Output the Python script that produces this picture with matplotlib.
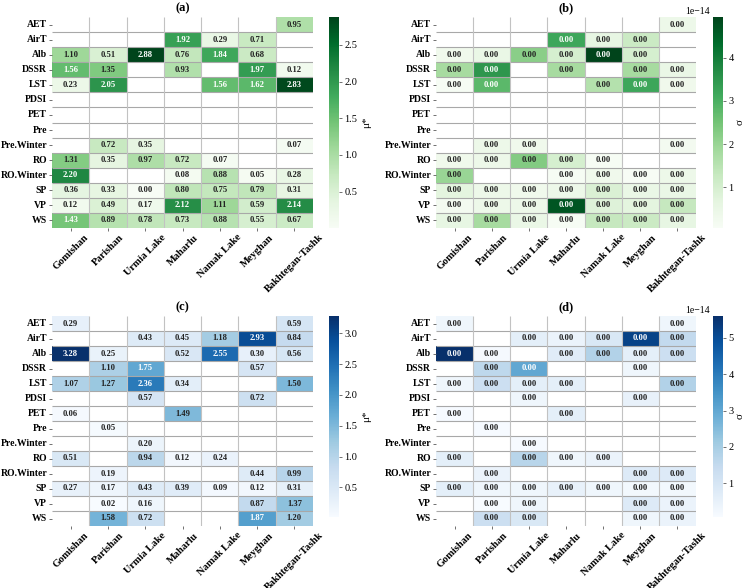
import numpy as np
import matplotlib
matplotlib.use("Agg")
import matplotlib.pyplot as plt
import seaborn as sns

plt.rcParams['font.family'] = ['Liberation Serif', 'DejaVu Serif']

sites = ["Gomishan", "Parishan", "Urmia Lake", "Maharlu", "Namak Lake", "Meyghan", "Bakhtegan-Tashk"]
variables = ["AET", "AirT", "Alb", "DSSR", "LST", "PDSI", "PET", "Pre", "Pre.Winter",
             "RO", "RO.Winter", "SP", "VP", "WS"]
N = np.nan

# (a) mu* - first set
mu_a = np.array([
    [N, N, N, N, N, N, 0.95],
    [N, N, N, 1.92, 0.29, 0.71, N],
    [1.10, 0.51, 2.88, 0.76, 1.84, 0.68, N],
    [1.56, 1.35, N, 0.93, N, 1.97, 0.12],
    [0.23, 2.05, N, N, 1.56, 1.62, 2.83],
    [N, N, N, N, N, N, N],
    [N, N, N, N, N, N, N],
    [N, N, N, N, N, N, N],
    [N, 0.72, 0.35, N, N, N, 0.07],
    [1.31, 0.35, 0.97, 0.72, 0.07, N, N],
    [2.20, N, N, 0.08, 0.88, 0.05, 0.28],
    [0.36, 0.33, 0.004, 0.80, 0.75, 0.79, 0.31],
    [0.12, 0.49, 0.17, 2.12, 1.11, 0.59, 2.14],
    [1.43, 0.89, 0.78, 0.73, 0.88, 0.55, 0.67],
])

# (b) sigma - first set (x 1e-14)
sigma_b = np.array([
    [N, N, N, N, N, N, 0.4],
    [N, N, N, 3.2, 0.6, 1.2, N],
    [0.3, 0.5, 2.2, 1.0, 4.95, 1.0, N],
    [1.8, 3.5, N, 1.8, N, 1.8, 0.5],
    [0.1, 2.8, N, N, 1.6, 3.2, 0.3],
    [N, N, N, N, N, N, N],
    [N, N, N, N, N, N, N],
    [N, N, N, N, N, N, N],
    [N, 0.4, 0.3, N, N, N, 0.2],
    [0.3, 0.4, 2.3, 1.0, 0.1, N, N],
    [2.0, N, N, 0.1, 0.3, 0.05, 0.4],
    [0.7, 0.4, 0.3, 0.4, 0.9, 0.5, 0.5],
    [0.2, 0.4, 0.4, 4.7, 0.8, 0.7, 1.3],
    [0.6, 1.8, 0.5, 0.1, 1.3, 1.2, 0.6],
]) * 1e-14

# (c) mu* - second set
mu_c = np.array([
    [0.29, N, N, N, N, N, 0.59],
    [N, N, 0.43, 0.45, 1.18, 2.93, 0.84],
    [3.28, 0.25, N, 0.52, 2.55, 0.30, 0.56],
    [N, 1.10, 1.75, N, N, 0.57, N],
    [1.07, 1.27, 2.36, 0.34, N, N, 1.50],
    [N, N, 0.57, N, N, 0.72, N],
    [0.06, N, N, 1.49, N, N, N],
    [N, 0.05, N, N, N, N, N],
    [N, N, 0.20, N, N, N, N],
    [0.51, N, 0.94, 0.12, 0.24, N, N],
    [N, 0.19, N, N, N, 0.44, 0.99],
    [0.27, 0.17, 0.43, 0.39, 0.09, 0.12, 0.31],
    [N, 0.02, 0.16, N, N, 0.87, 1.37],
    [N, 1.58, 0.72, N, N, 1.87, 1.20],
])

# (d) sigma - second set (x 1e-14)
sigma_d = np.array([
    [0.3, N, N, N, N, N, 0.3],
    [N, N, 0.6, 0.4, 0.9, 5.2, 1.5],
    [5.6, 0.15, N, 0.7, 1.8, 0.6, 1.3],
    [N, 1.6, 3.0, N, N, 0.3, N],
    [0.3, 1.3, 0.6, 0.6, N, N, 1.8],
    [N, N, 0.3, N, N, 0.5, N],
    [0.1, N, N, 0.6, N, N, N],
    [N, 0.1, N, N, N, N, N],
    [N, N, 0.1, N, N, N, N],
    [0.6, N, 1.7, 0.3, 0.4, N, N],
    [N, 0.4, N, N, N, 0.8, 0.8],
    [0.6, 0.3, 0.3, 0.5, 0.3, 0.2, 0.2],
    [N, 0.07, 0.3, N, N, 0.8, 0.4],
    [N, 1.3, 0.9, N, N, 0.3, 0.4],
]) * 1e-14

W, H = 743, 588
fig = plt.figure(figsize=(W / 100, H / 100), dpi=100)


def px_axes(x0, y0, x1, y1):
    return fig.add_axes([x0 / W, 1 - y1 / H, (x1 - x0) / W, (y1 - y0) / H])


panels = [
    (mu_a, "Greens", "(a)", "μ*", 3, (52, 17, 313, 228), (329, 17, 339, 228)),
    (sigma_b, "Greens", "(b)", "σ", 1, (436, 17, 696, 228), (713, 17, 723, 228)),
    (mu_c, "Blues", "(c)", "μ*", 3, (52, 316, 313, 526), (329, 316, 339, 517)),
    (sigma_d, "Blues", "(d)", "σ", 1, (436, 316, 696, 526), (713, 316, 723, 517)),
]

for data, cmap, title, clabel, lpad, box, cbox in panels:
    ax = px_axes(*box)
    cax = px_axes(*cbox)
    vmin, vmax = np.nanmin(data), np.nanmax(data)
    exp = int(np.floor(np.log10(vmax)))
    scale = 10.0 ** exp if abs(exp) >= 4 else 1.0
    sns.heatmap(data / scale, ax=ax, cbar_ax=cax, cmap=cmap, annot=False,
                xticklabels=sites, yticklabels=variables)
    nr, nc = data.shape
    for i in range(nr):
        for j in range(nc):
            v = data[i, j]
            if np.isnan(v):
                continue
            frac = (v - vmin) / (vmax - vmin)
            ax.text(j + 0.5, i + 0.5, f"{v:.2f}", ha="center", va="center",
                    fontsize=6.2, fontweight="bold",
                    color="white" if frac > 0.485 else "#222222")
    ax.hlines(np.arange(1, nr), 0, nc, colors="0.66", linewidth=0.8)
    ax.vlines(np.arange(1, nc), 0, nr, colors="0.76", linewidth=0.8)
    ax.set_title(title, fontsize=9, fontweight="bold", pad=4)
    ax.tick_params(axis="both", length=2.5, width=0.6, color="0.35", pad=1)
    ax.set_yticklabels(variables, rotation=0, fontsize=7, fontweight="bold")
    ax.set_xticklabels(sites, rotation=45, ha="center", fontsize=7.5, fontweight="bold")
    cb = ax.collections[0].colorbar
    cb.outline.set_visible(False)
    cax.tick_params(labelsize=7.5, length=2.5, width=0.6, color="0.35", pad=1.5)
    cb.set_label(clabel, fontsize=8, labelpad=lpad)
    if scale != 1.0:
        bx0 = cbox[0] - 3
        fig.text(bx0 / W, 1 - (cbox[1] - 1) / H,
                 f"1e\u2212{abs(exp)}" if exp < 0 else f"1e{exp}",
                 ha="right", va="bottom", fontsize=7)

fig.savefig("out.png", dpi=100)
